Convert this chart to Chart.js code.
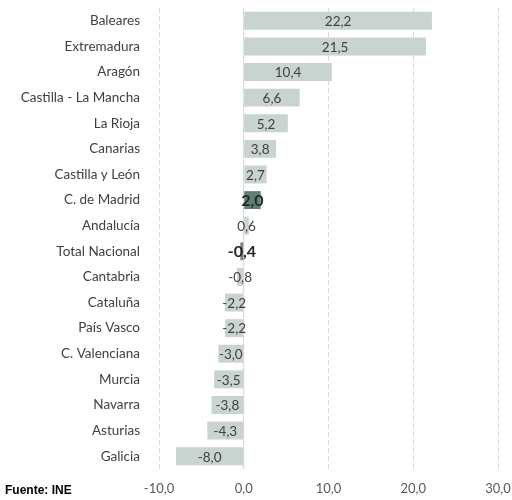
<!DOCTYPE html>
<html>
<head>
<meta charset="utf-8">
<script src="https://cdn.jsdelivr.net/npm/chart.js@4"></script>
<style>
body { margin: 0; background: #fff; }
</style>
</head>
<body>
<canvas id="canvas" width="512" height="500"></canvas>
<script>
var regiones = ['Baleares', 'Extremadura', 'Aragón', 'Castilla - La Mancha', 'La Rioja', 'Canarias',
    'Castilla y León', 'C. de Madrid', 'Andalucía', 'Total Nacional', 'Cantabria', 'Cataluña',
    'País Vasco', 'C. Valenciana', 'Murcia', 'Navarra', 'Asturias', 'Galicia'];
var valores = [22.2, 21.5, 10.4, 6.6, 5.2, 3.8, 2.7, 2.0, 0.6, -0.4, -0.8, -2.2, -2.2, -3.0, -3.5, -3.8, -4.3, -8.0];
var destacados = ['C. de Madrid', 'Total Nacional'];
var fuente = 'Fuente: INE';

function coma(v) {
    return v.toFixed(1).replace('.', ',');
}

var colores = regiones.map(function(r) {
    if (r == 'C. de Madrid') return '#5f7f72';
    if (r == 'Total Nacional') return '#7f7f7f';
    return '#c9d3cf';
});

// etiquetas de valor, línea del cero y fuente
var extras = {
    id: 'extras',
    beforeDatasetsDraw: function(chart) {
        var ctx = chart.ctx;
        var x0 = chart.scales.x.getPixelForValue(0);
        ctx.save();
        ctx.strokeStyle = '#d9d9d9';
        ctx.lineWidth = 1;
        ctx.beginPath();
        ctx.moveTo(x0, chart.chartArea.top);
        ctx.lineTo(x0, chart.chartArea.bottom);
        ctx.stroke();
        ctx.restore();
    },
    afterDatasetsDraw: function(chart) {
        var ctx = chart.ctx;
        var meta = chart.getDatasetMeta(0);
        ctx.save();
        ctx.textAlign = 'center';
        ctx.textBaseline = 'middle';
        meta.data.forEach(function(bar, i) {
            var bold = destacados.indexOf(regiones[i]) >= 0;
            ctx.font = bold ? 'bold 16px Lato' : '13.5px Lato';
            ctx.fillStyle = bold ? '#262626' : '#404040';
            var cx = (bar.x + bar.base) / 2;
            ctx.fillText(coma(valores[i]), cx, bar.y + 1);
        });
        ctx.font = 'bold 12px "Liberation Sans"';
        ctx.fillStyle = '#000';
        ctx.textAlign = 'left';
        ctx.fillText(fuente, 5, 491);
        ctx.restore();
    }
};

var ctx = document.getElementById('canvas').getContext('2d');
var myChart = new Chart(ctx, {
    type: 'bar',
    data: {
        labels: regiones,
        datasets: [{
            data: valores,
            backgroundColor: colores,
            borderWidth: 0,
            barPercentage: 0.7,
            categoryPercentage: 1
        }]
    },
    options: {
        indexAxis: 'y',
        responsive: false,
        animation: false,
        layout: { padding: { top: 8, right: 14, left: 0, bottom: 0 } },
        plugins: {
            legend: { display: false },
            tooltip: { enabled: false }
        },
        scales: {
            x: {
                min: -10,
                max: 30,
                ticks: {
                    stepSize: 10,
                    color: '#595959',
                    font: { family: 'Lato', size: 13 },
                    padding: 12,
                    callback: function(v) { return coma(v); }
                },
                grid: { color: '#d9d9d9', drawTicks: false },
                border: { display: false, dash: [5, 3] },
                afterFit: function(scale) {
                    scale.height = 31;
                    scale.paddingLeft = 0;
                    scale.paddingRight = 0;
                }
            },
            y: {
                ticks: {
                    color: '#404040',
                    font: { family: 'Lato', size: 13.5 },
                    padding: 19
                },
                grid: { display: false, drawTicks: false },
                border: { display: false },
                afterFit: function(scale) {
                    scale.width = 159;
                    scale.paddingTop = 0;
                    scale.paddingBottom = 0;
                }
            }
        }
    },
    plugins: [extras]
});
</script>
</body>
</html>
